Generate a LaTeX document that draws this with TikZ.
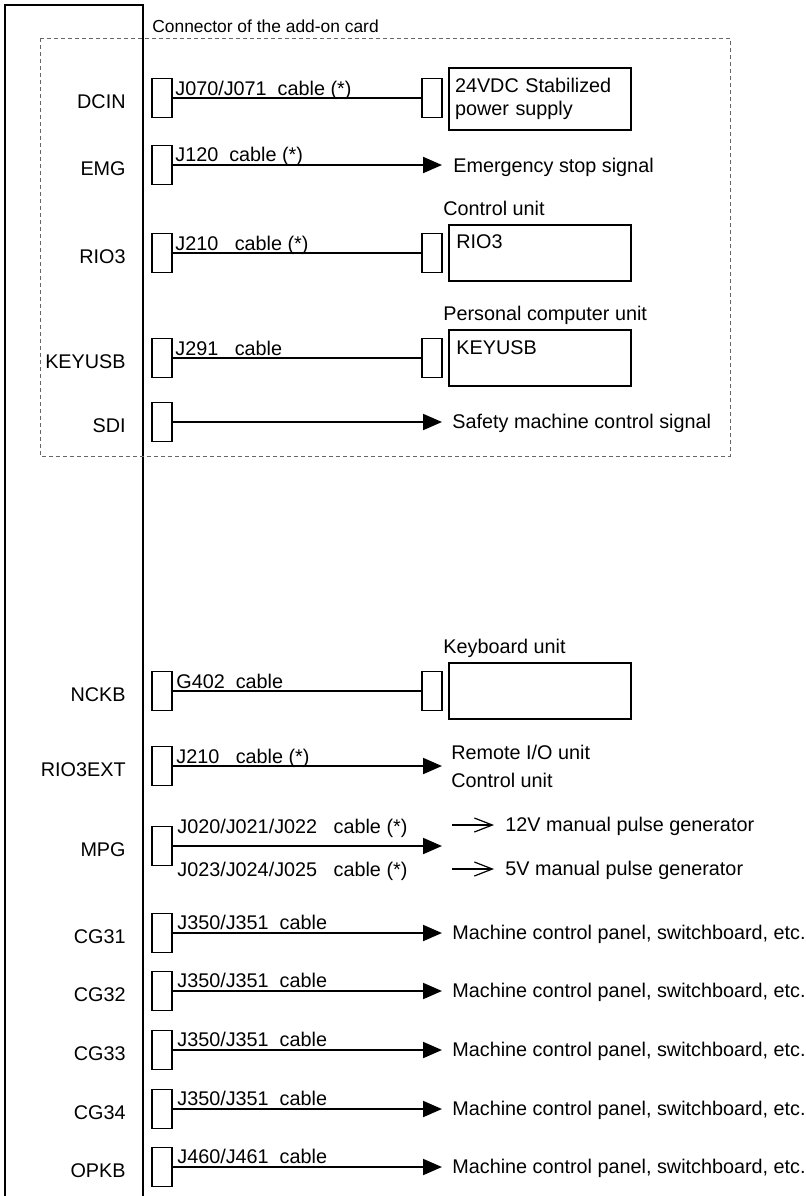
\documentclass[tikz,border=0pt]{standalone}
\usepackage{fontspec}
\setmainfont{Liberation Sans}
\usetikzlibrary{arrows.meta, positioning}
\tikzset{
  every node/.style={font=\fontsize{9.9}{11.5}\selectfont},
  plug/.style={draw, line width=0.8pt, minimum width=10pt, minimum height=19.5pt, inner sep=0pt},
  unit/.style={draw, line width=1pt, minimum width=91pt, minimum height=28pt, inner sep=3pt, align=left},
  pin/.style={anchor=east, inner sep=0pt},
  lbl/.style={anchor=base west, inner sep=0pt},
  txt/.style={anchor=west, inner sep=0pt},
  inbox/.style={anchor=north west, inner sep=0pt},
  link/.style={line width=1pt},
  sig/.style={line width=1pt, -{Triangle[length=9.5pt, width=8pt]}},
  hint/.style={line width=0.6pt, -{Straight Barb[length=9pt, width=7pt]}},
  card/.style={draw=black!60, line width=0.5pt, dash pattern=on 2pt off 1.5pt},
}

\begin{document}
\begin{tikzpicture}[x=0.5pt, y=-0.5pt]
  \useasboundingbox (0,0) rectangle (805,1196);
  % control unit frame
  \draw[line width=1pt] (5,1196) -- (5,5) -- (143,5) -- (143,1196);
  % add-on card area
  \draw[card] (40,38) rectangle (730,456);
  \node[txt, font=\fontsize{8.7}{10}\selectfont] (cardtitle) at (152,26) {Connector of the add-on card};

  % DCIN
  \node[plug] (dcin) at (162,98) {};
  \node[pin] (dcinname) at (126,102) {DCIN};
  \node[plug] (dcinR) at (432,98) {};
  \node[unit, text width=85pt, minimum height=31pt] (psu) at (540,99) {24VDC Stabilized\\power supply};
  \draw[link] (dcin) -- (dcinR);
  \node[lbl] (dcincab) at (175,95) {J070/J071~~cable (*)};

  % EMG
  \node[plug] (emg) at (162,165) {};
  \node[pin] (emgname) at (126,169) {EMG};
  \coordinate (emgend) at (442,165);
  \draw[sig] (emg) -- (emgend);
  \node[lbl] (emgcab) at (175,161) {J120~~cable (*)};
  \node[txt] (emgtxt) at (453,167) {Emergency stop signal};

  % RIO3
  \node[txt] (ctrltitle) at (443,208) {Control unit};
  \node[plug] (rio) at (162,253) {};
  \node[pin] (rioname) at (126,257) {RIO3};
  \node[plug] (rioR) at (432,253) {};
  \node[unit] (ctrl) at (540,253) {};
  \node[inbox] (ctrltxt) at (456,234) {RIO3};
  \draw[link] (rio) -- (rioR);
  \node[lbl] (riocab) at (175,250) {J210~~~cable (*)};

  % KEYUSB
  \node[txt] (pctitle) at (443,315) {Personal computer unit};
  \node[plug] (key) at (162,358) {};
  \node[pin] (keyname) at (126,362) {KEYUSB};
  \node[plug] (keyR) at (432,358) {};
  \node[unit] (pc) at (540,358) {};
  \node[inbox] (pctxt) at (456,340) {KEYUSB};
  \draw[link] (key) -- (keyR);
  \node[lbl] (keycab) at (175,355) {J291~~~cable};

  % SDI
  \node[plug] (sdi) at (162,422) {};
  \node[pin] (sdiname) at (126,426) {SDI};
  \coordinate (sdiend) at (442,422);
  \draw[sig] (sdi) -- (sdiend);
  \node[txt] (sditxt) at (452,423) {Safety machine control signal};

  % NCKB
  \node[txt] (kbtitle) at (443,648) {Keyboard unit};
  \node[plug] (nckb) at (162,691) {};
  \node[pin] (nckbname) at (126,695) {NCKB};
  \node[plug] (nckbR) at (432,691) {};
  \node[unit] (kb) at (540,691) {};
  \draw[link] (nckb) -- (nckbR);
  \node[lbl] (nckbcab) at (176,688) {G402~~cable};

  % RIO3EXT
  \node[plug] (rext) at (162,766) {};
  \node[pin] (rextname) at (126,770) {RIO3EXT};
  \coordinate (rextend) at (442,766);
  \draw[sig] (rext) -- (rextend);
  \node[lbl] (rextcab) at (176,763) {J210~~~cable (*)};
  \node[txt] (rexttxt) at (451,752) {Remote I/O unit};
  \node[txt] (rexttxt2) at (451,780) {Control unit};

  % MPG
  \node[plug] (mpg) at (162,846) {};
  \node[pin] (mpgname) at (126,850) {MPG};
  \coordinate (mpgend) at (442,846);
  \draw[sig] (mpg) -- (mpgend);
  \node[lbl] (mpgcab) at (177,833) {J020/J021/J022~~~cable (*)};
  \node[lbl] (mpgcab2) at (177,876) {J023/J024/J025~~~cable (*)};
  \coordinate (hi1a) at (452,825); \coordinate (hi1b) at (494,825);
  \coordinate (hi2a) at (452,869); \coordinate (hi2b) at (494,869);
  \draw[hint] (hi1a) -- (hi1b);
  \draw[hint] (hi2a) -- (hi2b);
  \node[txt] (mpg12) at (505,826) {12V manual pulse generator};
  \node[txt] (mpg5) at (505,870) {5V manual pulse generator};

  % CG31 - CG34
  \foreach \pn/\y in {CG31/933, CG32/991, CG33/1050, CG34/1109} {
    \node[plug] (\pn) at (162,\y) {};
    \node[pin] (\pn name) at (126,\y+4) {\pn};
    \coordinate (\pn end) at (442,\y);
    \draw[sig] (\pn) -- (\pn end);
    \node[lbl] (\pn cab) at (177,\y-4) {J350/J351~~cable};
    \node[txt] (\pn txt) at (452,\y+1) {Machine control panel, switchboard, etc.};
  }

  % OPKB
  \node[plug] (opkb) at (162,1167) {};
  \node[pin] (opkbname) at (126,1171) {OPKB};
  \coordinate (opkbend) at (442,1167);
  \draw[sig] (opkb) -- (opkbend);
  \node[lbl] (opkbcab) at (177,1163) {J460/J461~~cable};
  \node[txt] (opkbtxt) at (452,1168) {Machine control panel, switchboard, etc.};
\end{tikzpicture}
\end{document}
